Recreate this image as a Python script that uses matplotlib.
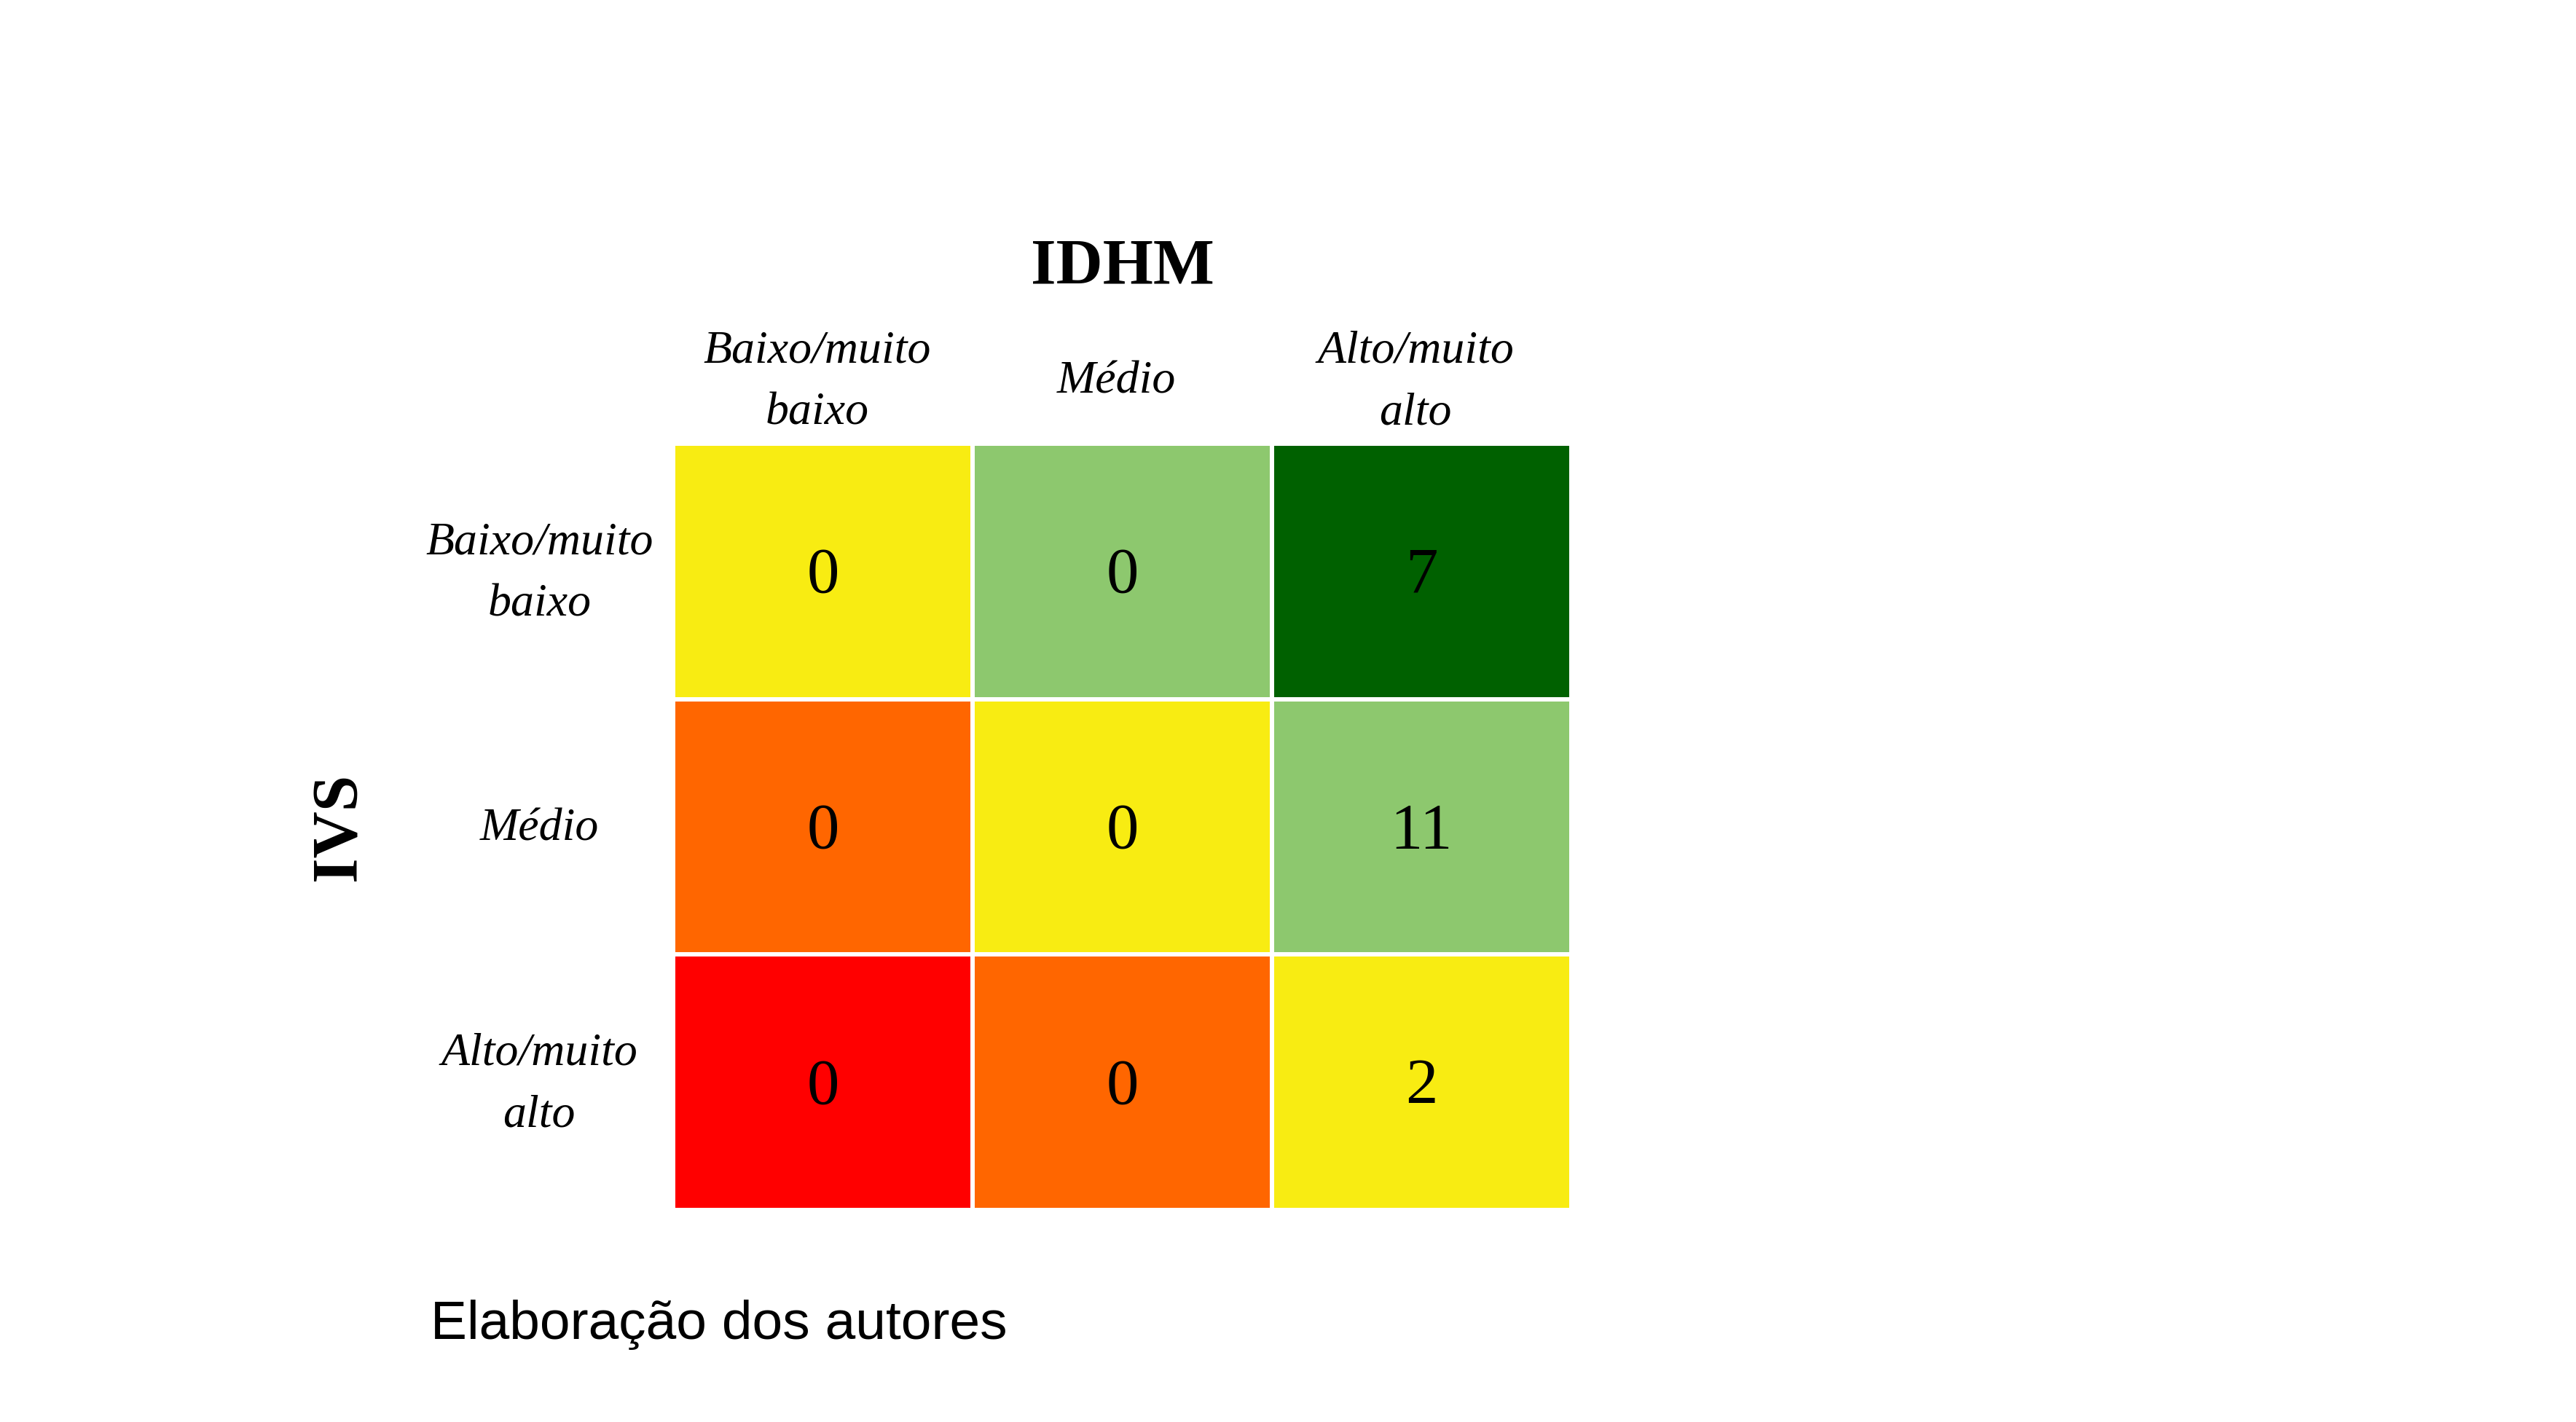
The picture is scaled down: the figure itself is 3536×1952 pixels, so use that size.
import numpy as np
import matplotlib
matplotlib.use("Agg")
import matplotlib.pyplot as plt
from matplotlib.colors import ListedColormap

# risk-matrix data
col_labels = ["Baixo/muito\nbaixo", "Médio", "Alto/muito\nalto"]
row_labels = ["Baixo/muito\nbaixo", "Médio", "Alto/muito\nalto"]
counts = [
    [0, 0, 7],
    [0, 0, 11],
    [0, 0, 2],
]
# colour class of each cell (0 = worst, 4 = best)
levels = [
    [2, 3, 4],
    [1, 2, 3],
    [0, 1, 2],
]
level_colors = ["#ff0000", "#ff6600", "#f8ec12", "#8dc86e", "#006100"]

W, H = 3536, 1952
DPI = 100
fig = plt.figure(figsize=(W / DPI, H / DPI), dpi=DPI)

# axes placed in pixel coords (grid 927..2154 x 612..1658, plus half gap)
left, right, top, bottom = 924, 2157, 609, 1661
ax = fig.add_axes([left / W, 1 - bottom / H, (right - left) / W, (bottom - top) / H])

lv = np.array(levels)
n_rows, n_cols = lv.shape
ax.pcolormesh(
    np.arange(n_cols + 1) - 0.5, np.arange(n_rows + 1) - 0.5, lv,
    cmap=ListedColormap(level_colors), vmin=-0.5, vmax=4.5,
    edgecolors="white", linewidth=4.3,
)
ax.set_xlim(-0.5, n_cols - 0.5)
ax.set_ylim(n_rows - 0.5, -0.5)
ax.axis("off")

serif = "Liberation Serif"
for i in range(n_rows):
    for j in range(n_cols):
        ax.text(j, i + 0.02, str(counts[i][j]), ha="center", va="center",
                fontsize=64, family=serif, color="black")

# column labels sit a touch left of the cell centres in the original
for j, lab in enumerate(col_labels):
    ax.text(j - 0.02, -0.74, lab, ha="center", va="center", fontsize=46,
            family=serif, style="italic", linespacing=1.6, clip_on=False)

for i, lab in enumerate(row_labels):
    ax.text(-0.947, i + 0.01, lab, ha="center", va="center", fontsize=46,
            family=serif, style="italic", linespacing=1.6, clip_on=False)

ax.text(1, -1.19, "IDHM", ha="center", va="center", fontsize=64,
        family=serif, weight="bold", clip_on=False)
ax.text(-1.615, 1, "IVS", ha="center", va="center", fontsize=64,
        family=serif, weight="bold", rotation=90, clip_on=False)

fig.text(591 / W, 1 - 1838 / H, "Elaboração dos autores", ha="left",
         va="baseline", fontsize=54, family="Liberation Sans")

fig.savefig("out.png", dpi=DPI, facecolor="white")
